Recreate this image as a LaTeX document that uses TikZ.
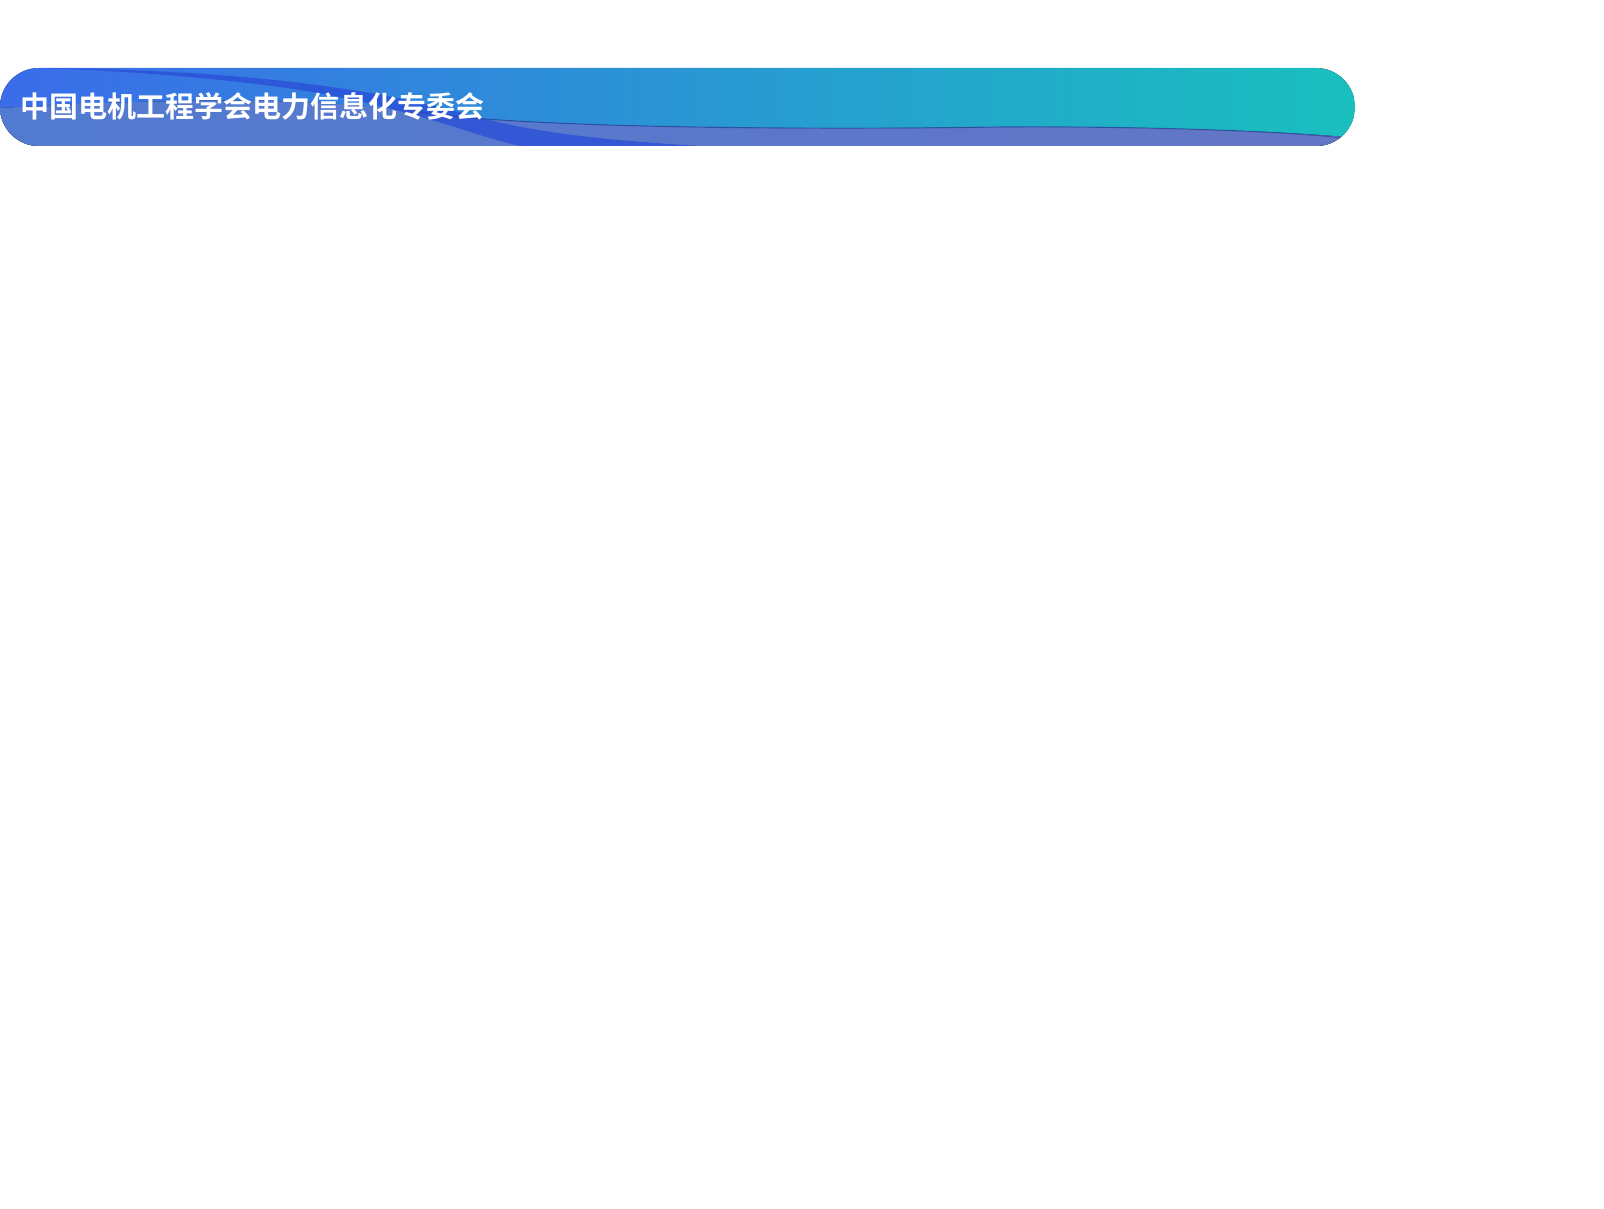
\documentclass[tikz,border=0pt]{standalone}
\usepackage{fontspec}
\newfontfamily\cjk{Noto Sans CJK SC}[BoldFont={Noto Sans CJK SC Bold}]
\definecolor{bl}{HTML}{3B6CEA}
\definecolor{tl}{HTML}{19C0BE}
\definecolor{dk}{HTML}{2A4FD8}
\definecolor{lw}{HTML}{5A88E6}
\definecolor{lwr}{HTML}{6F80D8}
\begin{document}
\begin{tikzpicture}[x=1pt,y=-1pt]
\useasboundingbox (0,0) rectangle (1604,1209);
\begin{scope}
\clip[rounded corners=39] (0,68) rectangle (1355,146);
\fill[left color=bl,right color=tl] (0,68) rectangle (1355,146);
\fill[left color=lw,right color=lwr,opacity=0.9] (0,146) -- (0,108) .. controls (150,100) and (300,95) .. (420,112) .. controls (520,128) and (800,130) .. (1000,127) .. controls (1150,126) and (1300,132) .. (1355,138) -- (1355,146) -- cycle;
\fill[dk,opacity=0.8] (40,68) .. controls (250,70) and (380,90) .. (470,115) .. controls (530,132) and (600,140) .. (700,146) -- (520,146) .. controls (470,135) and (420,110) .. (300,90) .. controls (200,75) and (100,70) .. (40,68) -- cycle;
\draw[dk!70!black,opacity=0.5,line width=1.2] (420,112) .. controls (520,128) and (800,130) .. (1000,127) .. controls (1150,126) and (1300,132) .. (1340,138);
\end{scope}
\node[anchor=west,text=white,font=\cjk\bfseries\fontsize{29}{32}\selectfont,inner sep=0] (t) at (20,106) {中国电机工程学会电力信息化专委会};
\end{tikzpicture}
\end{document}
